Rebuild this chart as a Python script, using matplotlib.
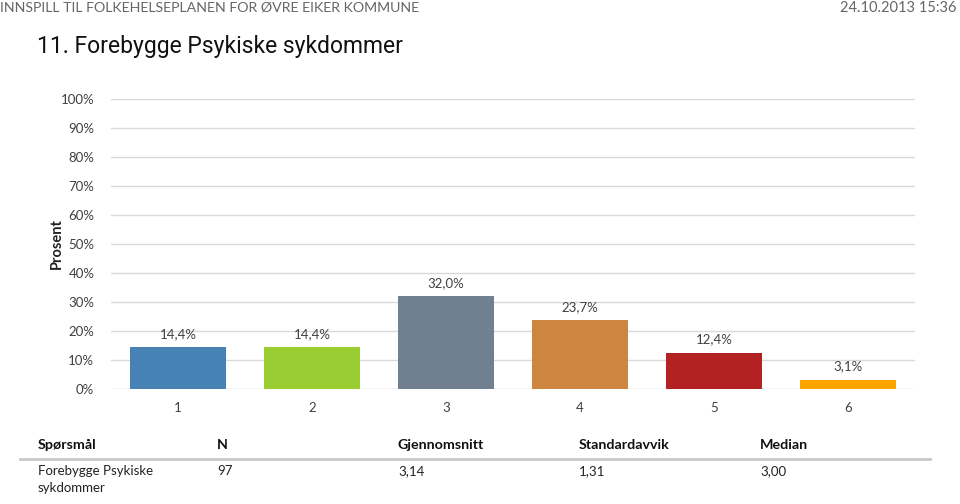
import matplotlib.pyplot as plt
from matplotlib.lines import Line2D

plt.rcParams["font.family"] = ["Lato", "DejaVu Sans"]

categories = ["1", "2", "3", "4", "5", "6"]
values = [14.4, 14.4, 32.0, 23.7, 12.4, 3.1]
bar_colors = ["#4682B4", "#9ACD32", "#708090", "#CD853F", "#B22222", "#FFA500"]
y_ticks = [0, 10, 20, 30, 40, 50, 60, 70, 80, 90, 100]

table_header = ["Spørsmål", "N", "Gjennomsnitt", "Standardavvik", "Median"]
table_row = ["Forebygge Psykiske\nsykdommer", "97", "3,14", "1,31", "3,00"]
table_cols_px = [38, 217, 398, 579, 760]

W, H = 960, 504
fig = plt.figure(figsize=(W / 100, H / 100), dpi=100)
fig.patch.set_facecolor("white")


def fx(px):
    return px / W


def fy(py):
    return 1 - py / H


ax = fig.add_axes([fx(111), fy(389), fx(915) - fx(111), fy(99) - fy(389)])
x = list(range(1, len(categories) + 1))
ax.bar(x, values, width=0.716, color=bar_colors, zorder=3)
for xi, v in zip(x, values):
    ax.text(xi, v + 2.6, f"{v:.1f}%".replace(".", ","), ha="center", va="bottom",
            fontsize=9.5, color="#404040")

ax.set_xlim(0.5, 6.5)
ax.set_ylim(0, 100)
ax.set_yticks(y_ticks)
ax.set_yticklabels([f"{t}%" for t in y_ticks])
ax.set_xticks(x)
ax.set_xticklabels(categories)
ax.grid(axis="y", color="#d9d9d9", linewidth=1, zorder=0)
for s in ax.spines.values():
    s.set_visible(False)
ax.tick_params(axis="both", length=0, labelsize=9.5, colors="#404040")
ax.tick_params(axis="y", pad=12)
ax.tick_params(axis="x", pad=9)
ax.set_ylabel("Prosent", fontsize=10.5, fontweight="bold", color="#222222", labelpad=-2)

fig.text(fx(0), fy(8), "INNSPILL TIL FOLKEHELSEPLANEN FOR ØVRE EIKER KOMMUNE",
         ha="left", va="center", fontsize=10.2, color="#666666")
fig.text(fx(956), fy(8), "24.10.2013 15:36", ha="right", va="center",
         fontsize=10.5, color="#666666")
fig.text(fx(37), fy(47), "11. Forebygge Psykiske sykdommer", ha="left", va="center",
         fontsize=16.5, color="#111111", family=["Roboto", "DejaVu Sans"])

for cx, h in zip(table_cols_px, table_header):
    fig.text(fx(cx), fy(445), h, ha="left", va="center", fontsize=10.3,
             fontweight="bold", color="#111111")
fig.add_artist(Line2D([fx(20), fx(930)], [fy(459), fy(459)], color="#c8c8c8",
                      linewidth=2, transform=fig.transFigure))
for cx, t in zip(table_cols_px, table_row):
    fig.text(fx(cx), fy(465), t, ha="left", va="top", fontsize=9.5,
             color="#222222", linespacing=1.5)

fig.savefig("out.png", dpi=100)
